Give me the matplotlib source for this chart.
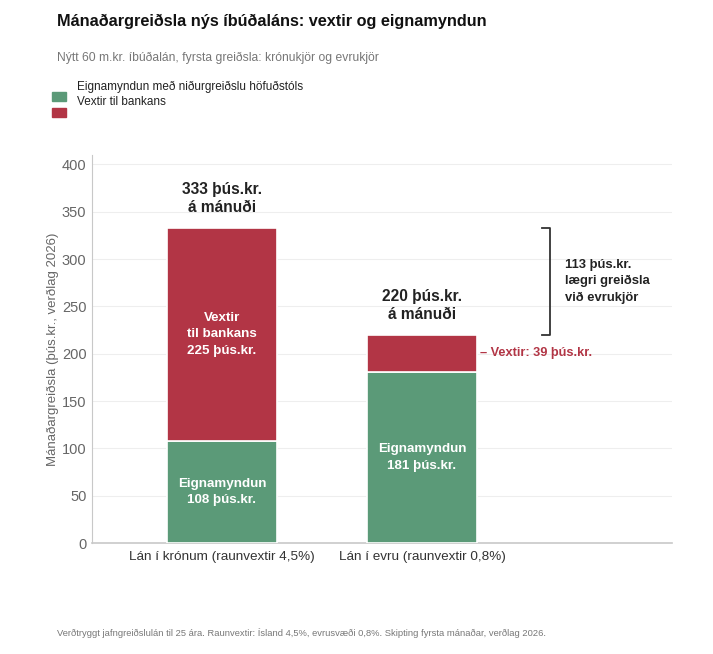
import matplotlib
matplotlib.use("Agg")
import matplotlib.pyplot as plt
from matplotlib.patches import Rectangle

plt.rcParams["font.family"] = ["Liberation Sans", "DejaVu Sans"]

# data
loans = ["Lán í krónum (raunvextir 4,5%)", "Lán í evru (raunvextir 0,8%)"]
equity = [108, 181]
interest = [225, 39]
totals = [333, 220]
saving = 113

GREEN = "#5b9a78"
RED = "#b23545"

fig = plt.figure(figsize=(7.13, 6.54), dpi=100)
ax = fig.add_axes([0.129, 0.1697, 0.8135, 0.5933])

x = list(range(len(loans)))
ax.bar(x, equity, width=0.55, color=GREEN, edgecolor="white", linewidth=1.2, zorder=3)
ax.bar(x, interest, bottom=equity, width=0.55, color=RED, edgecolor="white",
       linewidth=1.2, zorder=3)

ax.set_xlim(-0.65, 2.25)
ax.set_ylim(0, 410)
ax.set_yticks(range(0, 401, 50))
ax.set_xticks(x)
ax.set_xticklabels(loans, fontsize=9.7, color="#333333")
ax.tick_params(axis="both", length=0)
ax.tick_params(axis="x", pad=6)
ax.tick_params(axis="y", labelsize=10.5, labelcolor="#666666", pad=4)
ax.grid(axis="y", color="#eeeeee", linewidth=0.8, zorder=0)
for s in ["top", "right"]:
    ax.spines[s].set_visible(False)
ax.spines["left"].set_color("#c8c8c8")
ax.spines["bottom"].set_color("#c8c8c8")
ax.spines["bottom"].set_linewidth(1.2)
ax.set_ylabel("Mánaðargreiðsla (þús.kr., verðlag 2026)", fontsize=9.5, color="#666666",
              labelpad=2)

# totals above bars
for i, t in enumerate(totals):
    ax.text(i, t + 14, f"{t} þús.kr.\ná mánuði", ha="center", va="bottom",
            fontsize=11.2, fontweight="bold", color="#222222", linespacing=1.25)

# labels inside bars
ax.text(0, equity[0] + interest[0] / 2, f"Vextir\ntil bankans\n{interest[0]} þús.kr.",
        ha="center", va="center", fontsize=9.6, fontweight="bold", color="white",
        linespacing=1.5, zorder=4)
for i, e in enumerate(equity):
    ax.text(i, e / 2, f"Eignamyndun\n{e} þús.kr.", ha="center",
            va="center", fontsize=9.6, fontweight="bold", color="white",
            linespacing=1.5, zorder=4)

# small interest label beside euro bar
ax.text(1.29, equity[1] + interest[1] / 2, f"– Vextir: {interest[1]} þús.kr.",
        ha="left", va="center", fontsize=9.2, fontweight="bold", color=RED)

# bracket for difference
bx = 1.64
ax.plot([bx - 0.04, bx, bx, bx - 0.04], [totals[0], totals[0], totals[1], totals[1]],
        color="#333333", linewidth=1.3, clip_on=False)
ax.text(bx + 0.075, (totals[0] + totals[1]) / 2,
        f"{saving} þús.kr.\nlægri greiðsla\nvið evrukjör", ha="left", va="center",
        fontsize=9.4, fontweight="bold", color="#222222", linespacing=1.45)

# title, subtitle, legend, footnote
fig.text(0.08, 0.968, "Mánaðargreiðsla nýs íbúðaláns: vextir og eignamyndun",
         fontsize=11.7, fontweight="bold", color="#111111", va="center")
fig.text(0.08, 0.911, "Nýtt 60 m.kr. íbúðalán, fyrsta greiðsla: krónukjör og evrukjör",
         fontsize=8.7, color="#777777", va="center")
fig.patches.append(Rectangle((52 / 713, 1 - 101 / 654), 14 / 713, 9 / 654,
                             transform=fig.transFigure, color=GREEN))
fig.patches.append(Rectangle((52 / 713, 1 - 117 / 654), 14 / 713, 9 / 654,
                             transform=fig.transFigure, color=RED))
fig.text(77 / 713, 1 - 87 / 654, "Eignamyndun með niðurgreiðslu höfuðstóls",
         fontsize=8.5, color="#222222", va="center")
fig.text(77 / 713, 1 - 102 / 654, "Vextir til bankans",
         fontsize=8.5, color="#222222", va="center")
fig.text(0.08, 1 - 633 / 654,
         "Verðtryggt jafngreiðslulán til 25 ára. Raunvextir: Ísland 4,5%, evrusvæði 0,8%. "
         "Skipting fyrsta mánaðar, verðlag 2026.",
         fontsize=6.75, color="#777777", va="center")

fig.savefig("out.png", dpi=100)
